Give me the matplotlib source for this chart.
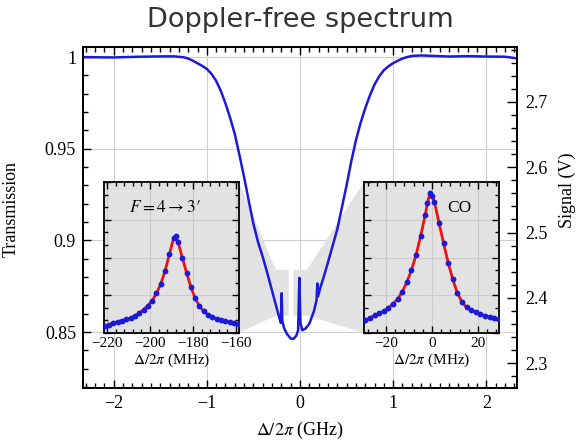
import matplotlib
matplotlib.use('Agg')
from matplotlib import pyplot as plt
from matplotlib.patches import Polygon
from matplotlib.ticker import MultipleLocator, NullFormatter

plt.rcParams['font.family'] = ['Liberation Serif', 'DejaVu Serif']
plt.rcParams['mathtext.fontset'] = 'stix'

# main trace
freq_ghz = [-2.33, -2.2, -2.0, -1.8, -1.6, -1.45, -1.35, -1.25, -1.2, -1.15, -1.1, -1.05,
            -1.0, -0.95, -0.9, -0.85, -0.8, -0.75, -0.7, -0.65, -0.6, -0.55, -0.5, -0.45,
            -0.4, -0.35, -0.3, -0.25, -0.22, -0.205, -0.197, -0.19, -0.17, -0.14, -0.1,
            -0.07, -0.04, -0.02, -0.007, 0.005, 0.025, 0.06, 0.1, 0.15, 0.178, 0.186,
            0.194, 0.22, 0.26, 0.3, 0.35, 0.4, 0.45, 0.5, 0.55, 0.6, 0.65, 0.7, 0.75,
            0.8, 0.85, 0.9, 0.95, 1.0, 1.05, 1.1, 1.15, 1.2, 1.3, 1.4, 1.6, 1.8, 2.0,
            2.2, 2.33]
transmission = [1.0000, 0.9999, 0.9998, 1.0001, 1.0003, 1.0004, 1.0004, 0.9999, 0.9992,
                0.9980, 0.9966, 0.9952, 0.9935, 0.9908, 0.9870, 0.9815, 0.9747, 0.9668,
                0.9580, 0.9465, 0.9345, 0.9215, 0.9090, 0.8990, 0.8910, 0.8820, 0.8725,
                0.8630, 0.8575, 0.8550, 0.8712, 0.8560, 0.8520, 0.8490, 0.8465, 0.8463,
                0.8480, 0.8510, 0.8796, 0.8550, 0.8510, 0.8520, 0.8545, 0.8615, 0.8675,
                0.8765, 0.8695, 0.8745, 0.8810, 0.8880, 0.8970, 0.9060, 0.9180, 0.9300,
                0.9430, 0.9545, 0.9640, 0.9720, 0.9790, 0.9850, 0.9895, 0.9928, 0.9950,
                0.9967, 0.9980, 0.9992, 1.0000, 1.0006, 1.0009, 1.0007, 1.0003, 1.0005,
                1.0003, 1.0002, 0.9993]

# inset F=4 -> 3'
f43_mhz = [-221, -219, -217, -215, -213, -211, -209, -207, -205, -203, -201, -199, -197,
           -195, -193, -191, -189, -188, -187, -185, -183, -181, -179, -177, -175, -173,
           -171, -169, -167, -165, -163, -161, -159]
f43_sig = [0.045, 0.055, 0.068, 0.075, 0.082, 0.090, 0.100, 0.115, 0.132, 0.155, 0.182,
           0.215, 0.262, 0.325, 0.410, 0.520, 0.630, 0.640, 0.605, 0.500, 0.400, 0.305,
           0.230, 0.178, 0.143, 0.122, 0.106, 0.095, 0.086, 0.078, 0.072, 0.066, 0.060]

# inset CO
co_mhz = [-29, -27, -25, -23, -21, -19, -17, -15, -13, -11, -9, -7, -5, -3, -2, -1, 0,
          1, 3, 5, 7, 9, 11, 13, 15, 17, 19, 21, 23, 25, 27, 29]
co_sig = [0.088, 0.100, 0.117, 0.130, 0.146, 0.165, 0.192, 0.225, 0.272, 0.335, 0.415,
          0.515, 0.640, 0.780, 0.860, 0.925, 0.910, 0.870, 0.730, 0.595, 0.465, 0.355,
          0.265, 0.205, 0.170, 0.150, 0.137, 0.125, 0.114, 0.105, 0.098, 0.092]

# zoom boxes marked on the main trace (GHz, transmission)
box_left = (-0.26, -0.12, 0.859, 0.884)
box_right = (-0.07, 0.075, 0.859, 0.884)

blue = '#1a1ad8'
gray = '#e2e2e2'

fig = plt.figure(figsize=(5.83, 4.47), dpi=100)
ax = fig.add_axes([83 / 583, 59 / 447, 434 / 583, 341 / 447])
ax2 = ax.twinx()
ins1 = fig.add_axes([104 / 583, 114 / 447, 135 / 583, 151 / 447])
ins2 = fig.add_axes([364 / 583, 114 / 447, 135 / 583, 151 / 447])

ax.plot(freq_ghz, transmission, color=blue, lw=1.8, zorder=3)
ax.set_xlim(-2.33, 2.33)
ax.set_ylim(0.8195, 1.0055)
ax2.set_ylim(2.262, 2.784)
ax.set_xticks([-2, -1, 0, 1, 2])
ax.set_yticks([0.85, 0.9, 0.95, 1])
ax.set_yticklabels(['0.85', '0.9', '0.95', '1'])
ax.xaxis.set_minor_locator(MultipleLocator(0.1))
ax.yaxis.set_minor_locator(MultipleLocator(0.01))
ax2.set_yticks([2.3, 2.4, 2.5, 2.6, 2.7])
ax2.yaxis.set_minor_locator(MultipleLocator(0.02))
ax.grid(True, color='#cfcfcf', lw=0.8)
ax.set_axisbelow(True)
ax.tick_params(which='both', direction='in', top=True, right=False, labelsize=13, width=1)
ax.tick_params(which='major', length=6)
ax.tick_params(which='minor', length=3.5)
ax.tick_params(axis='y', pad=5)
ax.tick_params(axis='x', pad=5)
ax2.tick_params(which='both', direction='in', labelsize=13, width=1, pad=6)
ax2.tick_params(which='major', length=7)
ax2.tick_params(which='minor', length=4)
for a in (ax, ax2):
    for s in a.spines.values():
        s.set_linewidth(1.3)

ax.set_xlabel(r'$\Delta/2\pi$ (GHz)', fontsize=13, labelpad=6)
ax.set_ylabel('Transmission', fontsize=13)
ax.yaxis.set_label_coords(-0.145, 0.525)
ax2.set_ylabel('Signal (V)', fontsize=13)
ax2.yaxis.set_label_coords(1.095, 0.58)

fig.text(300 / 583, 1 - 20 / 447, 'Doppler-free spectrum', family='DejaVu Sans',
         fontsize=19.5, color='#333333', ha='center', va='center')

# insets
ins_specs = [(ins1, f43_mhz, f43_sig, (-221.4, -158.6), [-220, -200, -180, -160]),
             (ins2, co_mhz, co_sig, (-29.6, 29.1), [-20, 0, 20])]
for ins, xs, ys, xl, xt in ins_specs:
    ins.set_facecolor(gray)
    ins.plot(xs, ys, color='#ee1111', lw=2, zorder=3)
    ins.plot(xs, ys, 'o', color=blue, ms=4.2, mew=0, zorder=4)
    ins.set_xlim(*xl)
    ins.set_ylim(0, 1)
    ins.set_xticks(xt)
    ins.xaxis.set_minor_locator(MultipleLocator(4))
    ins.yaxis.set_major_locator(MultipleLocator(0.25))
    ins.yaxis.set_minor_locator(MultipleLocator(1 / 12))
    ins.yaxis.set_major_formatter(NullFormatter())
    ins.grid(True, color='#cbcbcb', lw=0.8)
    ins.set_axisbelow(True)
    ins.tick_params(which='both', direction='in', top=True, right=True, labelsize=11,
                    width=1, pad=3)
    ins.tick_params(which='major', length=5)
    ins.tick_params(which='minor', length=3)
    for s in ins.spines.values():
        s.set_linewidth(1.3)
    ins.set_xlabel(r'$\Delta/2\pi$ (MHz)', fontsize=11, labelpad=1)

ins1.text(0.45, 0.83, r"$F = 4 \rightarrow 3\prime$", transform=ins1.transAxes,
          fontsize=12.5, ha='center', va='center')
ins2.text(0.71, 0.83, 'CO', transform=ins2.transAxes, fontsize=12.5,
          ha='center', va='center')

# gray wedges joining each inset to its zoom box on the main trace
to_data = ax.transData.inverted()


def corner(ins, pos):
    return to_data.transform(ins.transAxes.transform(pos))


x0, x1, y0, y1 = box_left
wedge_l = [corner(ins1, (1, 1)), (x0, y1), (x1, y1), (x1, y0), (x0, y0), corner(ins1, (1, 0))]
x0, x1, y0, y1 = box_right
wedge_r = [corner(ins2, (0, 1)), (x1, y1), (x0, y1), (x0, y0), (x1, y0), corner(ins2, (0, 0))]
for pts in (wedge_l, wedge_r):
    ax.add_patch(Polygon(pts, closed=True, facecolor=gray, edgecolor='none', zorder=1))

plt.savefig('out.png', dpi=100)
